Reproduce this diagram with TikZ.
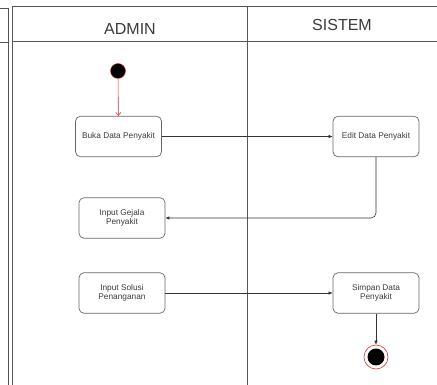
\documentclass[tikz,border=0pt]{standalone}
\usepackage{fontspec}
\setmainfont{Liberation Sans}
\usetikzlibrary{arrows.meta}

\definecolor{lanegrey}{HTML}{555555}
\definecolor{boxgrey}{HTML}{666666}
\definecolor{txtgrey}{HTML}{3A3A3A}
\definecolor{startred}{HTML}{E03030}

\begin{document}
\begin{tikzpicture}[x=1pt,y=-1pt,
    lane/.style={draw=lanegrey,line width=0.7pt},
    action/.style={draw=boxgrey,rounded corners=5pt,line width=0.7pt,
        minimum width=86pt,minimum height=40.5pt,align=center,
        font=\fontsize{8.3}{9.6}\selectfont,text=txtgrey,inner sep=1pt},
    flow/.style={draw=black!80,line width=0.6pt,-{Latex[length=4pt,width=3.5pt]}},
    header/.style={font=\fontsize{16}{16}\selectfont,text=txtgrey}]

    \useasboundingbox (0,0) rectangle (437,385);

    % swimlanes
    \draw[lane] (0,8) -- (8,8) (0,42) -- (8,42);
    \draw[lane] (8,8) -- (8,385);
    \draw[lane] (12,385) -- (12,6) -- (437,6);
    \draw[lane] (12,41) -- (437,41);
    \draw[lane] (247,6) -- (247,385);
    \node[header] (admin) at (130,29) {ADMIN};
    \node[header] (sistem) at (342,25) {SISTEM};

    % start and stop
    \node[circle,fill=black,draw=startred,line width=0.4pt,minimum size=15pt,inner sep=0pt] (start) at (118,71) {};
    \node[circle,draw=startred,line width=0.6pt,minimum size=24pt,inner sep=0pt] (stop) at (376,357) {};
    \node[circle,fill=black,minimum size=17pt,inner sep=0pt] (stopdot) at (376,357) {};

    % actions
    \node[action] (buka) at (118.5,136.5) {Buka Data Penyakit};
    \node[action] (edit) at (376,136.5) {Edit Data Penyakit};
    \node[action] (gejala) at (122,218) {Input Gejala\\Penyakit};
    \node[action] (solusi) at (122,293) {Input Solusi\\Penanganan};
    \node[action] (simpan) at (376,293) {Simpan Data\\Penyakit};

    % flows
    \draw[draw=startred,line width=0.6pt,-{Straight Barb[length=3pt,width=5pt]}] (start) -- (buka);
    \draw[flow] (buka) -- (edit);
    \draw[flow,rounded corners=5pt] (edit.south) |- (gejala.east);
    \draw[flow] (solusi) -- (simpan);
    \draw[flow] (simpan) -- (stop);
\end{tikzpicture}
\end{document}
